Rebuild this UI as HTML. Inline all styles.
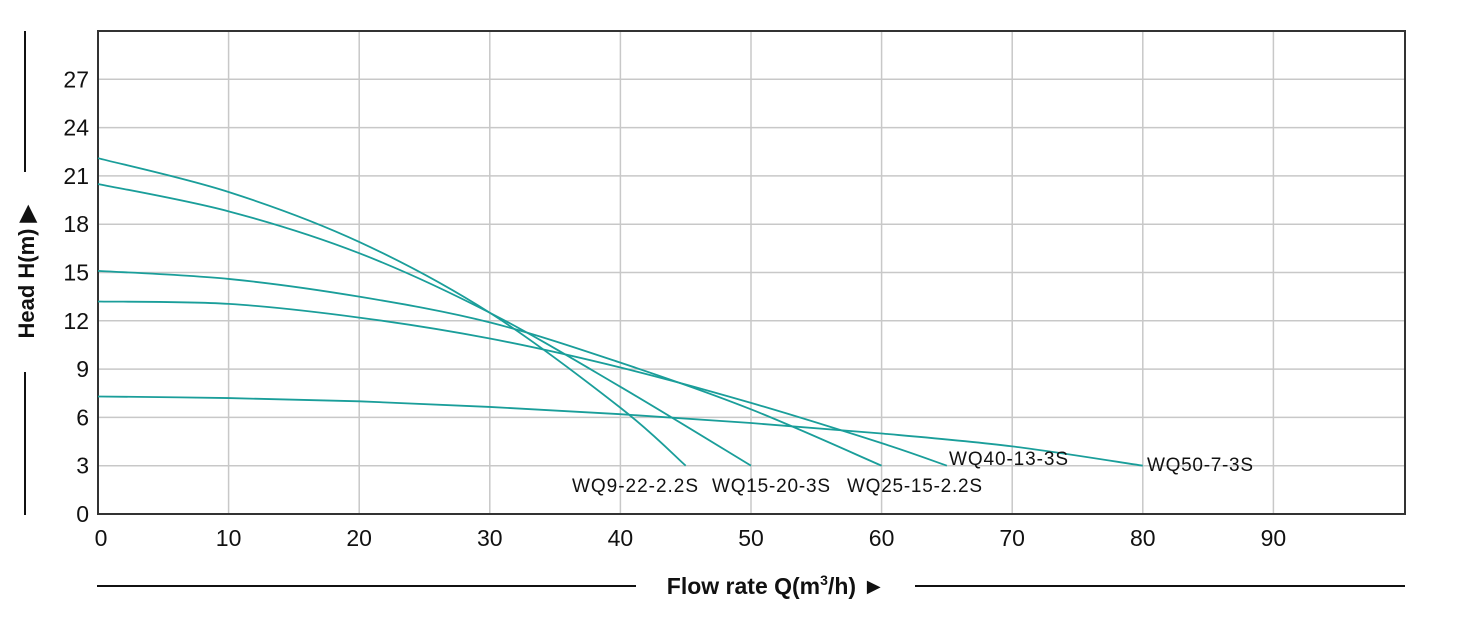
<!DOCTYPE html><html><head><meta charset="utf-8"><style>body{margin:0;background:#fff}svg{display:block}text{font-family:"Liberation Sans",sans-serif}</style></head><body>
<svg id="s" width="1479" height="623" xmlns="http://www.w3.org/2000/svg">
<g id="grid" stroke="#c8c8c8" stroke-width="1.5"></g>
<rect x="98" y="31" width="1307" height="483" fill="none" stroke="#333" stroke-width="2"/>
<g id="curves" fill="none" stroke="#1a9e9a" stroke-width="1.8"></g>
<g id="ticks" font-size="23" fill="#111"></g>
<g font-size="19" fill="#111">
<text x="572" y="492" textLength="126">WQ9-22-2.2S</text>
<text x="712" y="492" textLength="118">WQ15-20-3S</text>
<text x="847" y="492" textLength="135">WQ25-15-2.2S</text>
<text x="949" y="465" textLength="119">WQ40-13-3S</text>
<text x="1147" y="471" textLength="106">WQ50-7-3S</text>
</g>
<line x1="25" y1="31" x2="25" y2="172" stroke="#111" stroke-width="2"/>
<line x1="25" y1="372" x2="25" y2="515" stroke="#111" stroke-width="2"/>
<text transform="translate(34,272) rotate(-90)" text-anchor="middle" font-size="22" font-weight="bold" fill="#111">Head H(m) ▶</text>
<line x1="97" y1="586" x2="636" y2="586" stroke="#111" stroke-width="2"/>
<line x1="915" y1="586" x2="1405" y2="586" stroke="#111" stroke-width="2"/>
<text x="776" y="594" text-anchor="middle" font-size="23" font-weight="bold" fill="#111">Flow rate Q(m<tspan font-size="14" dy="-9">3</tspan><tspan dy="9">/h) ►</tspan></text>
</svg>
<script>
const X=v=>98+v*13.06,Y=v=>514-v*16.1,ns="http://www.w3.org/2000/svg";
function el(p,t,a,tx){const e=document.createElementNS(ns,t);for(const k in a)e.setAttribute(k,a[k]);if(tx!=null)e.textContent=tx;document.getElementById(p).appendChild(e);}
for(let i=10;i<=90;i+=10)el("grid","line",{x1:X(i),x2:X(i),y1:31,y2:514});
for(let j=3;j<=27;j+=3)el("grid","line",{x1:98,x2:1405,y1:Y(j),y2:Y(j)});
for(let i=0;i<=90;i+=10)el("ticks","text",{x:X(i)+(i==0?3:0),y:546,"text-anchor":"middle"},i);
for(let j=0;j<=27;j+=3)el("ticks","text",{x:89,y:Y(j)+8,"text-anchor":"end"},j);
const C=[[[0,22.1],[10,20],[20,16.9],[30,12.5],[40,6.6],[45,3]],
[[0,20.5],[10,18.8],[20,16.2],[30,12.5],[40,7.9],[50,3]],
[[0,15.1],[10,14.6],[20,13.5],[30,11.9],[40,9.4],[50,6.5],[60,3]],
[[0,13.2],[10,13.05],[20,12.2],[30,10.9],[40,9.1],[50,6.9],[60,4.4],[65,3]],
[[0,7.3],[10,7.2],[20,7],[30,6.65],[40,6.2],[50,5.65],[60,5],[70,4.2],[80,3]]];
C.forEach(c=>{let p=c.map(q=>[X(q[0]),Y(q[1])]);let d="M"+p[0];for(let i=0;i<p.length-1;i++){const a=p[i-1]||p[i],b=p[i],cc=p[i+1],e=p[i+2]||cc;
const c1=[b[0]+(cc[0]-a[0])/6,b[1]+(cc[1]-a[1])/6],c2=[cc[0]-(e[0]-b[0])/6,cc[1]-(e[1]-b[1])/6];d+=" C"+c1+" "+c2+" "+cc;}
el("curves","path",{d});});
</script>
</body></html>
